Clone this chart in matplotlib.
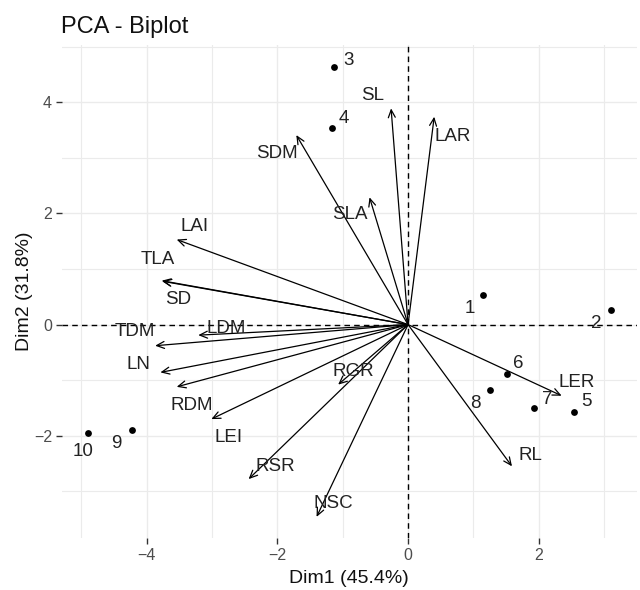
import matplotlib
matplotlib.use("Agg")
import matplotlib.pyplot as plt
import numpy as np

plt.rcParams['font.family'] = ['Liberation Sans', 'DejaVu Sans']

# ---- data ----
ind_labels = ["1", "2", "3", "4", "5", "6", "7", "8", "9", "10"]
ind_x = [1.15, 3.10, -1.13, -1.17, 2.54, 1.51, 1.93, 1.25, -4.22, -4.90]
ind_y = [0.54, 0.26, 4.64, 3.54, -1.57, -0.88, -1.50, -1.17, -1.90, -1.95]

var_labels = ["SL", "LAR", "SLA", "SDM", "LAI", "TLA", "SD", "TDM", "LDM",
              "LN", "RDM", "LEI", "RGR", "RSR", "NSC", "LER", "RL"]
var_x = [-0.26, 0.40, -0.59, -1.71, -3.54, -3.77, -3.76, -3.87, -3.21,
         -3.79, -3.54, -3.01, -1.07, -2.44, -1.40, 2.35, 1.59]
var_y = [3.89, 3.74, 2.29, 3.41, 1.53, 0.79, 0.78, -0.38, -0.19,
         -0.86, -1.12, -1.70, -1.08, -2.78, -3.46, -1.28, -2.55]

x_ticks = [-4, -2, 0, 2]
y_ticks = [-2, 0, 2, 4]
title = "PCA - Biplot"
xlabel = "Dim1 (45.4%)"
ylabel = "Dim2 (31.8%)"

# ---- label offsets (points) ----
ind_off = {"1": (-10, -9.8), "2": (-10.3, -9.6), "3": (10.3, 4.1), "4": (8.9, 6.8),
           "5": (8.9, 7.4), "6": (8.4, 7.5), "7": (9.1, 6.3), "8": (-10.6, -10.1),
           "9": (-11.2, -9.6), "10": (-3.2, -13.2)}
var_off = {"SL": (-13.2, 9.1), "LAR": (13.2, -13.9), "SLA": (-14.4, -12.2),
           "SDM": (-13.9, -13.2), "LAI": (13.2, 9.1), "TLA": (-2.9, 15.6),
           "SD": (11.5, -13.2), "TDM": (-14.4, 10.1), "LDM": (20.4, 4.8),
           "LN": (-15.6, 5.8), "RDM": (10.8, -13.2), "LEI": (12.5, -13.5),
           "RGR": (11.2, 9.8), "RSR": (19.2, 9.4), "NSC": (12, 9.6),
           "LER": (10.8, 9.4), "RL": (13.5, 7.9)}

fig = plt.figure(figsize=(6.4, 5.9), dpi=100)
ax = fig.add_axes([0.0964, 0.0881, 0.8986, 0.8356])
ax.set_xlim(-5.30, 3.50)
ax.set_ylim(-3.84, 5.03)

# grid
for v in np.arange(-5, 4, 1):
    ax.axvline(v, color="#EBEBEB", lw=1.0 if v % 2 == 0 else 0.8, zorder=0)
for v in np.arange(-3, 6, 1):
    ax.axhline(v, color="#EBEBEB", lw=1.0 if v % 2 == 0 else 0.8, zorder=0)

ax.axhline(0, color="black", lw=1.0, ls=(0, (4, 3)), zorder=1)
ax.axvline(0, color="black", lw=1.0, ls=(0, (4, 3)), zorder=1)

# arrows
for lab, x, y in zip(var_labels, var_x, var_y):
    ax.annotate("", xy=(x, y), xytext=(0, 0),
                arrowprops=dict(arrowstyle="->,head_length=0.55,head_width=0.25",
                                color="black", lw=0.9, shrinkA=0, shrinkB=0),
                zorder=3)
    dx, dy = var_off[lab]
    ax.annotate(lab, xy=(x, y), xytext=(dx, dy), textcoords="offset points",
                ha="center", va="center", fontsize=13.5, color="#222222", zorder=4)

# points
ax.scatter(ind_x, ind_y, s=24, color="black", zorder=5, linewidths=0)
for lab, x, y in zip(ind_labels, ind_x, ind_y):
    dx, dy = ind_off[lab]
    ax.annotate(lab, xy=(x, y), xytext=(dx, dy), textcoords="offset points",
                ha="center", va="center", fontsize=13.5, color="#222222", zorder=6)

for s in ax.spines.values():
    s.set_visible(False)
ax.set_xticks(x_ticks)
ax.set_yticks(y_ticks)
ax.tick_params(axis="both", length=4, width=1.0, color="#333333",
               labelcolor="#4D4D4D", labelsize=11.5, pad=3)
ax.set_xlabel(xlabel, fontsize=14, color="#111111", labelpad=5)
ax.set_ylabel(ylabel, fontsize=14, color="#111111")
ax.yaxis.set_label_coords(-0.050, 0.5)
fig.text(0.096, 0.955, title, fontsize=17, color="#111111", ha="left", va="center")

fig.savefig("out.png", dpi=100)
